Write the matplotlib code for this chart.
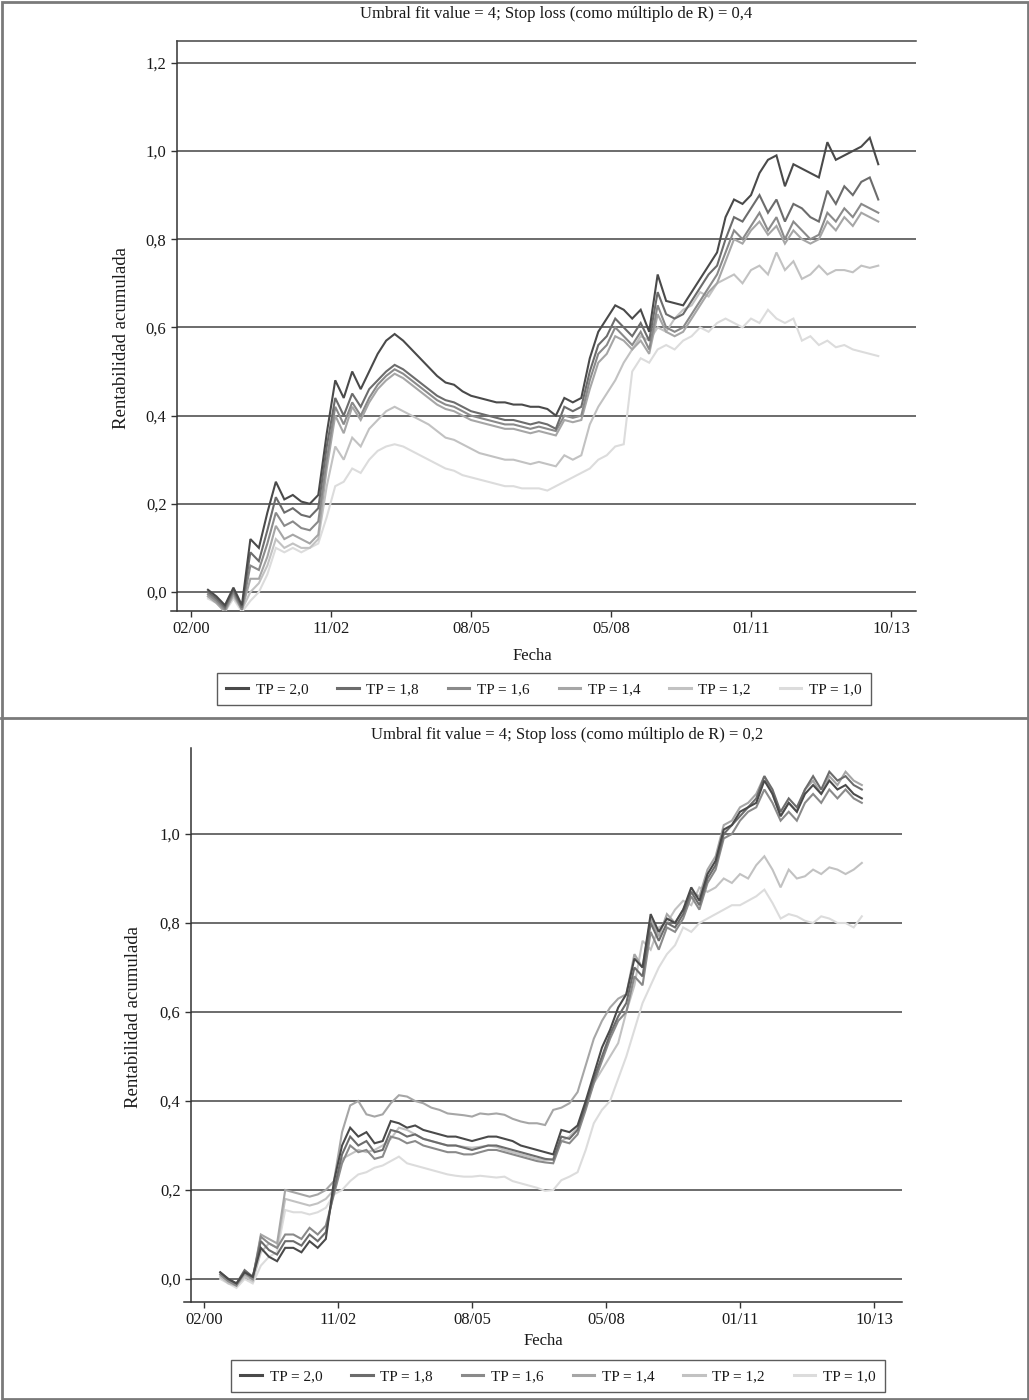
import matplotlib
matplotlib.use('Agg')
import matplotlib.pyplot as plt
from matplotlib.lines import Line2D
from matplotlib.patches import Rectangle

plt.rcParams['font.family'] = ['Liberation Serif', 'DejaVu Serif']

# ---------------- data ----------------
# month index counted from the 02/00 tick (one sample every two months)
months = [4, 6, 8, 10, 12, 14, 16, 18, 20, 22,
          24, 26, 28, 30, 32, 34, 36, 38, 40, 42,
          44, 46, 48, 50, 52, 54, 56, 58, 60, 62,
          64, 66, 68, 70, 72, 74, 76, 78, 80, 82,
          84, 86, 88, 90, 92, 94, 96, 98, 100, 102,
          104, 106, 108, 110, 112, 114, 116, 118, 120, 122,
          124, 126, 128, 130, 132, 134, 136, 138, 140, 142,
          144, 146, 148, 150, 152, 154, 156, 158, 160, 162]

tick_months = [0, 33, 66, 99, 132, 165]
tick_labels = ["02/00", "11/02", "08/05", "05/08", "01/11", "10/13"]

y_ticks = [0.0, 0.2, 0.4, 0.6, 0.8, 1.0, 1.2]
y_tick_labels = ["0,0", "0,2", "0,4", "0,6", "0,8", "1,0", "1,2"]

series_labels = ["TP = 2,0", "TP = 1,8", "TP = 1,6", "TP = 1,4", "TP = 1,2", "TP = 1,0"]

title_top = "Umbral fit value = 4; Stop loss (como múltiplo de R) = 0,4"
title_bottom = "Umbral fit value = 4; Stop loss (como múltiplo de R) = 0,2"

# ---- panel 1: stop loss 0,4 ----
sl04_tp20 = [0.005, -0.01, -0.03, 0.01, -0.03, 0.12, 0.10, 0.18, 0.25, 0.21,
             0.22, 0.205, 0.20, 0.22, 0.36, 0.48, 0.44, 0.50, 0.46, 0.50,
             0.54, 0.57, 0.585, 0.57, 0.55, 0.53, 0.51, 0.49, 0.475, 0.47,
             0.455, 0.445, 0.44, 0.435, 0.43, 0.43, 0.425, 0.425, 0.42, 0.42,
             0.415, 0.40, 0.44, 0.43, 0.44, 0.53, 0.59, 0.62, 0.65, 0.64,
             0.62, 0.64, 0.59, 0.72, 0.66, 0.655, 0.65, 0.68, 0.71, 0.74,
             0.77, 0.85, 0.89, 0.88, 0.90, 0.95, 0.98, 0.99, 0.92, 0.97,
             0.96, 0.95, 0.94, 1.02, 0.98, 0.99, 1.00, 1.01, 1.03, 0.97]
sl04_tp18 = [0.0, -0.015, -0.035, 0.005, -0.035, 0.09, 0.07, 0.14, 0.215, 0.18,
             0.19, 0.175, 0.17, 0.19, 0.33, 0.44, 0.40, 0.45, 0.42, 0.46,
             0.48, 0.50, 0.515, 0.505, 0.49, 0.475, 0.46, 0.445, 0.435, 0.43,
             0.42, 0.41, 0.405, 0.40, 0.395, 0.39, 0.39, 0.385, 0.38, 0.385,
             0.38, 0.37, 0.42, 0.41, 0.42, 0.50, 0.56, 0.58, 0.62, 0.60,
             0.58, 0.61, 0.57, 0.68, 0.63, 0.62, 0.63, 0.66, 0.69, 0.72,
             0.74, 0.80, 0.85, 0.84, 0.87, 0.90, 0.86, 0.89, 0.84, 0.88,
             0.87, 0.85, 0.84, 0.91, 0.88, 0.92, 0.90, 0.93, 0.94, 0.89]
sl04_tp16 = [-0.005, -0.02, -0.04, 0.0, -0.04, 0.06, 0.05, 0.11, 0.18, 0.15,
             0.16, 0.145, 0.14, 0.16, 0.30, 0.42, 0.38, 0.43, 0.40, 0.44,
             0.47, 0.49, 0.505, 0.495, 0.48, 0.465, 0.45, 0.435, 0.425, 0.42,
             0.41, 0.40, 0.395, 0.39, 0.385, 0.38, 0.38, 0.375, 0.37, 0.375,
             0.37, 0.365, 0.40, 0.395, 0.40, 0.48, 0.54, 0.56, 0.60, 0.58,
             0.56, 0.59, 0.55, 0.65, 0.60, 0.59, 0.60, 0.63, 0.66, 0.69,
             0.72, 0.77, 0.82, 0.80, 0.83, 0.86, 0.82, 0.85, 0.80, 0.84,
             0.82, 0.80, 0.81, 0.86, 0.84, 0.87, 0.85, 0.88, 0.87, 0.86]
sl04_tp14 = [-0.01, -0.025, -0.045, -0.005, -0.04, 0.03, 0.03, 0.08, 0.15, 0.12,
             0.13, 0.12, 0.11, 0.13, 0.28, 0.40, 0.36, 0.42, 0.39, 0.43,
             0.46, 0.48, 0.495, 0.485, 0.47, 0.455, 0.44, 0.425, 0.415, 0.41,
             0.40, 0.39, 0.385, 0.38, 0.375, 0.37, 0.37, 0.365, 0.36, 0.365,
             0.36, 0.355, 0.39, 0.385, 0.39, 0.46, 0.52, 0.54, 0.58, 0.57,
             0.55, 0.57, 0.54, 0.63, 0.59, 0.58, 0.59, 0.62, 0.65, 0.68,
             0.70, 0.75, 0.80, 0.79, 0.82, 0.84, 0.81, 0.83, 0.79, 0.82,
             0.80, 0.79, 0.80, 0.84, 0.82, 0.85, 0.83, 0.86, 0.85, 0.84]
sl04_tp12 = [-0.01, -0.02, -0.04, -0.01, -0.04, 0.0, 0.02, 0.06, 0.12, 0.10,
             0.11, 0.10, 0.10, 0.12, 0.24, 0.33, 0.30, 0.35, 0.33, 0.37,
             0.39, 0.41, 0.42, 0.41, 0.40, 0.39, 0.38, 0.365, 0.35, 0.345,
             0.335, 0.325, 0.315, 0.31, 0.305, 0.30, 0.30, 0.295, 0.29, 0.295,
             0.29, 0.285, 0.31, 0.30, 0.31, 0.38, 0.42, 0.45, 0.48, 0.52,
             0.55, 0.58, 0.57, 0.60, 0.59, 0.62, 0.64, 0.65, 0.68, 0.67,
             0.70, 0.71, 0.72, 0.70, 0.73, 0.74, 0.72, 0.77, 0.73, 0.75,
             0.71, 0.72, 0.74, 0.72, 0.73, 0.73, 0.725, 0.74, 0.735, 0.74]
sl04_tp10 = [-0.015, -0.025, -0.045, -0.015, -0.045, -0.02, 0.0, 0.04, 0.10, 0.09,
             0.10, 0.09, 0.10, 0.11, 0.17, 0.24, 0.25, 0.28, 0.27, 0.30,
             0.32, 0.33, 0.335, 0.33, 0.32, 0.31, 0.30, 0.29, 0.28, 0.275,
             0.265, 0.26, 0.255, 0.25, 0.245, 0.24, 0.24, 0.235, 0.235, 0.235,
             0.23, 0.24, 0.25, 0.26, 0.27, 0.28, 0.30, 0.31, 0.33, 0.335,
             0.50, 0.53, 0.52, 0.55, 0.56, 0.55, 0.57, 0.58, 0.60, 0.59,
             0.61, 0.62, 0.61, 0.60, 0.62, 0.61, 0.64, 0.62, 0.61, 0.62,
             0.57, 0.58, 0.56, 0.57, 0.555, 0.56, 0.55, 0.545, 0.54, 0.535]

# ---- panel 2: stop loss 0,2 ----
sl02_tp20 = [0.015, 0.0, -0.01, 0.015, 0.005, 0.07, 0.05, 0.04, 0.07, 0.07,
             0.06, 0.085, 0.07, 0.09, 0.22, 0.30, 0.34, 0.32, 0.33, 0.305,
             0.31, 0.355, 0.35, 0.34, 0.345, 0.335, 0.33, 0.325, 0.32, 0.32,
             0.315, 0.31, 0.315, 0.32, 0.32, 0.315, 0.31, 0.30, 0.295, 0.29,
             0.285, 0.28, 0.335, 0.33, 0.345, 0.40, 0.46, 0.52, 0.56, 0.61,
             0.64, 0.72, 0.70, 0.82, 0.78, 0.81, 0.80, 0.83, 0.88, 0.85,
             0.91, 0.94, 1.01, 1.02, 1.05, 1.06, 1.07, 1.12, 1.09, 1.04,
             1.07, 1.05, 1.09, 1.11, 1.09, 1.12, 1.10, 1.11, 1.09, 1.08]
sl02_tp18 = [0.015, 0.0, -0.01, 0.02, 0.005, 0.085, 0.065, 0.055, 0.085, 0.085,
             0.075, 0.10, 0.085, 0.105, 0.20, 0.28, 0.32, 0.30, 0.31, 0.285,
             0.29, 0.335, 0.33, 0.32, 0.325, 0.315, 0.31, 0.305, 0.30, 0.30,
             0.295, 0.29, 0.295, 0.30, 0.30, 0.295, 0.29, 0.285, 0.28, 0.275,
             0.27, 0.268, 0.32, 0.315, 0.335, 0.39, 0.45, 0.50, 0.55, 0.59,
             0.62, 0.70, 0.68, 0.80, 0.76, 0.80, 0.79, 0.82, 0.87, 0.84,
             0.90, 0.93, 1.00, 1.02, 1.04, 1.06, 1.08, 1.13, 1.10, 1.05,
             1.08, 1.06, 1.10, 1.13, 1.10, 1.14, 1.12, 1.13, 1.11, 1.10]
sl02_tp16 = [0.01, -0.005, -0.015, 0.015, 0.0, 0.095, 0.08, 0.07, 0.10, 0.10,
             0.09, 0.115, 0.10, 0.12, 0.19, 0.26, 0.30, 0.285, 0.29, 0.27,
             0.275, 0.32, 0.315, 0.305, 0.31, 0.30, 0.295, 0.29, 0.285, 0.285,
             0.28, 0.28, 0.285, 0.29, 0.29, 0.285, 0.28, 0.275, 0.27, 0.265,
             0.262, 0.26, 0.31, 0.305, 0.325, 0.38, 0.44, 0.49, 0.54, 0.58,
             0.60, 0.68, 0.66, 0.78, 0.74, 0.79, 0.78, 0.81, 0.86, 0.83,
             0.89, 0.92, 0.99, 1.00, 1.03, 1.05, 1.06, 1.10, 1.07, 1.03,
             1.05, 1.03, 1.07, 1.09, 1.07, 1.10, 1.08, 1.10, 1.08, 1.07]
sl02_tp14 = [0.01, -0.005, -0.01, 0.01, 0.0, 0.10, 0.09, 0.08, 0.20, 0.195,
             0.19, 0.185, 0.19, 0.20, 0.22, 0.33, 0.39, 0.40, 0.37, 0.365,
             0.37, 0.395, 0.413, 0.41, 0.40, 0.395, 0.385, 0.38, 0.372, 0.37,
             0.368, 0.365, 0.372, 0.37, 0.372, 0.369, 0.36, 0.354, 0.35, 0.35,
             0.346, 0.38, 0.385, 0.395, 0.42, 0.48, 0.54, 0.58, 0.61, 0.63,
             0.64, 0.73, 0.70, 0.81, 0.77, 0.82, 0.80, 0.83, 0.87, 0.86,
             0.92, 0.95, 1.02, 1.03, 1.06, 1.07, 1.09, 1.13, 1.09, 1.04,
             1.07, 1.05, 1.10, 1.12, 1.09, 1.13, 1.11, 1.14, 1.12, 1.11]
sl02_tp12 = [0.005, -0.01, -0.015, 0.005, -0.005, 0.06, 0.08, 0.07, 0.18, 0.175,
             0.17, 0.165, 0.17, 0.18, 0.20, 0.27, 0.28, 0.29, 0.285, 0.29,
             0.30, 0.315, 0.34, 0.335, 0.325, 0.315, 0.31, 0.305, 0.30, 0.30,
             0.297, 0.295, 0.297, 0.30, 0.297, 0.29, 0.285, 0.28, 0.275, 0.27,
             0.267, 0.27, 0.31, 0.32, 0.34, 0.39, 0.44, 0.47, 0.50, 0.53,
             0.60, 0.66, 0.76, 0.74, 0.79, 0.80, 0.83, 0.85, 0.84, 0.88,
             0.87, 0.88, 0.90, 0.89, 0.91, 0.90, 0.93, 0.95, 0.92, 0.88,
             0.92, 0.90, 0.905, 0.92, 0.91, 0.925, 0.92, 0.91, 0.92, 0.935]
sl02_tp10 = [0.0, -0.01, -0.02, 0.0, -0.01, 0.03, 0.05, 0.06, 0.155, 0.15,
             0.15, 0.145, 0.15, 0.16, 0.19, 0.20, 0.22, 0.235, 0.24, 0.25,
             0.255, 0.265, 0.275, 0.26, 0.255, 0.25, 0.245, 0.24, 0.235, 0.232,
             0.23, 0.23, 0.232, 0.23, 0.228, 0.23, 0.22, 0.215, 0.21, 0.205,
             0.198, 0.20, 0.222, 0.23, 0.24, 0.29, 0.35, 0.38, 0.40, 0.45,
             0.50, 0.56, 0.62, 0.66, 0.70, 0.73, 0.75, 0.79, 0.78, 0.80,
             0.81, 0.82, 0.83, 0.84, 0.84, 0.85, 0.86, 0.875, 0.845, 0.81,
             0.82, 0.815, 0.805, 0.80, 0.815, 0.81, 0.80, 0.80, 0.79, 0.815]

panel_top = [sl04_tp20, sl04_tp18, sl04_tp16, sl04_tp14, sl04_tp12, sl04_tp10]
panel_bottom = [sl02_tp20, sl02_tp18, sl02_tp16, sl02_tp14, sl02_tp12, sl02_tp10]

# ---------------- style ----------------
line_colors = ["#4a4a4a", "#6c6c6c", "#8a8a8a", "#a6a6a6", "#c2c2c2", "#dcdcdc"]
grid_color = "#444444"
text_color = "#1a1a1a"
FS = 12

W, H = 1029, 1400
fig = plt.figure(figsize=(W / 100, H / 100), dpi=100)


def fx(px):
    return px / W


def fy(py):
    return 1 - py / H


def make_panel(rect, xlim, spine_x, ylim, data, title, title_xy, ylabel_xy,
               xlabel_xy, legend_xy, top_line):
    ax = fig.add_axes(rect)
    ax.set_xlim(*xlim)
    ax.set_ylim(*ylim)
    ax.spines["right"].set_visible(False)
    ax.spines["top"].set_visible(top_line)
    if top_line:
        ax.spines["top"].set_bounds(spine_x, xlim[1])
        ax.spines["top"].set_color(grid_color)
        ax.spines["top"].set_linewidth(1.1)
    ax.spines["left"].set_position(("data", spine_x))
    for k in ("left", "bottom"):
        ax.spines[k].set_color("#333333")
        ax.spines[k].set_linewidth(1.1)
    yt = [t for t in y_ticks if t < ylim[1]]
    ax.hlines(yt, spine_x, xlim[1], colors=grid_color, linewidth=1.1, zorder=1)
    # draw lightest first so darker series sit on top
    for vals, col in reversed(list(zip(data, line_colors))):
        ax.plot(months, vals, color=col, linewidth=1.5, zorder=3,
                solid_joinstyle="miter")
    ax.set_yticks(yt)
    ax.set_yticklabels(y_tick_labels[:len(yt)])
    ax.set_xticks(tick_months)
    ax.set_xticklabels(tick_labels)
    ax.tick_params(axis="both", direction="out", length=4.5, width=1.0,
                   color="#333333", labelsize=FS, labelcolor=text_color, pad=3)
    fig.text(fx(title_xy[0]), fy(title_xy[1]), title, ha="center", va="center",
             fontsize=FS, color=text_color)
    fig.text(fx(ylabel_xy[0]), fy(ylabel_xy[1]), "Rentabilidad acumulada",
             rotation=90, ha="center", va="center", fontsize=13.5, color=text_color)
    fig.text(fx(xlabel_xy[0]), fy(xlabel_xy[1]), "Fecha", ha="center",
             va="center", fontsize=FS, color=text_color)
    handles = [Line2D([0], [0], color=c, linewidth=2.2) for c in line_colors]
    leg = fig.legend(handles, series_labels, loc="center",
                     bbox_to_anchor=(fx(legend_xy[0]), fy(legend_xy[1])),
                     ncol=6, frameon=True, fancybox=False, fontsize=11,
                     handlelength=1.4, handletextpad=0.5, columnspacing=1.9,
                     borderpad=0.6)
    leg.get_frame().set_edgecolor("#333333")
    leg.get_frame().set_linewidth(1.0)
    for t in leg.get_texts():
        t.set_color(text_color)
    return ax


# top panel: 02/00 tick at px 191, 4.2424 px per month; 0.0 at py 592, 441 px per unit
k_top = lambda px: (px - 191) / 4.2424
make_panel([fx(171), fy(611), fx(916) - fx(171), fy(41) - fy(611)],
           (k_top(171), k_top(916)), k_top(177),
           (-(611 - 592) / 441, (592 - 41) / 441),
           panel_top, title_top, (556, 14), (122, 338), (532, 656), (544, 689),
           True)

# bottom panel: 02/00 tick at px 204, 4.0606 px per month; 0.0 at py 1279, 445 px per unit
k_bot = lambda px: (px - 204) / 4.0606
make_panel([fx(184), fy(1302), fx(902) - fx(184), fy(748) - fy(1302)],
           (k_bot(184), k_bot(902)), k_bot(191),
           (-(1302 - 1279) / 445, (1279 - 748) / 445),
           panel_bottom, title_bottom, (567, 735), (133, 1017), (543, 1341),
           (558, 1376), False)

# outer frame and divider
fig.patches.append(Rectangle((fx(1.5), fy(1398.5)), fx(1026), fy(1.5) - fy(1398.5),
                             transform=fig.transFigure, fill=False,
                             edgecolor="#7a7a7a", linewidth=2.0))
fig.lines.append(Line2D([fx(1), fx(1028)], [fy(718), fy(718)],
                        transform=fig.transFigure, color="#7a7a7a", linewidth=2.0))

fig.savefig("out.png", dpi=100)
